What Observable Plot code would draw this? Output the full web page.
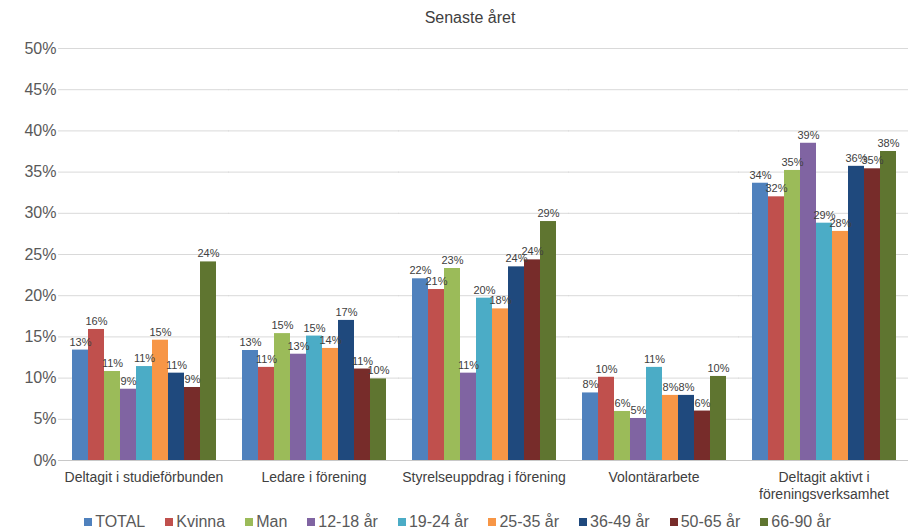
<!DOCTYPE html>
<html>
<head>
<meta charset="utf-8">
<script src="https://cdn.jsdelivr.net/npm/d3@7"></script>
<script src="https://cdn.jsdelivr.net/npm/@observablehq/plot@0.6"></script>
<style>
  html, body { margin: 0; padding: 0; background: #fff; overflow: hidden; }
  body { width: 908px; height: 532px; font-family: "Liberation Sans", Arial, sans-serif; }
  #title { height: 36px; line-height: 36px; font-size: 16px; color: #404040; text-align: center; padding-left: 32px; }
  #chart svg { display: block; }
  #legend { display: flex; justify-content: center; align-items: center; gap: 20px; font-size: 16px; color: #595959; height: 27px; padding-left: 7px; margin-top: 3px; }
  #legend .item { display: flex; align-items: center; white-space: nowrap; }
  #legend .sw { width: 8px; height: 8px; margin-right: 3px; display: inline-block; }
</style>
</head>
<body>
<div id="title">Senaste året</div>
<div id="chart"></div>
<div id="legend"></div>
<script>
const categories = [
  "Deltagit i studieförbunden",
  "Ledare i förening",
  "Styrelseuppdrag i förening",
  "Volontärarbete",
  "Deltagit aktivt i föreningsverksamhet"
];
const series = ["TOTAL", "Kvinna", "Man", "12-18 år", "19-24 år", "25-35 år", "36-49 år", "50-65 år", "66-90 år"];
const colors = ["#4F81BD", "#C0504D", "#9BBB59", "#8064A2", "#4BACC6", "#F79646", "#1F497D", "#772C2A", "#5F7530"];

// values (%) per series, in category order
const vTOTAL  = [13.4, 13.35, 22.05, 8.2, 33.65];
const vKvinna = [15.9, 11.3, 20.75, 10.1, 32.0];
const vMan    = [10.8, 15.4, 23.3, 5.95, 35.2];
const v1218   = [8.65, 12.9, 10.6, 5.1, 38.5];
const v1924   = [11.4, 15.1, 19.7, 11.3, 28.8];
const v2535   = [14.6, 13.6, 18.4, 7.9, 27.8];
const v3649   = [10.6, 17.0, 23.5, 7.9, 35.7];
const v5065   = [8.86, 11.1, 24.35, 6.0, 35.4];
const v6690   = [24.1, 9.9, 29.0, 10.2, 37.5];
const values = [vTOTAL, vKvinna, vMan, v1218, v1924, v2535, v3649, v5065, v6690];

const yTicks = [0, 5, 10, 15, 20, 25, 30, 35, 40, 45, 50];

const data = categories.flatMap((c, i) => series.map((s, j) => ({category: c, series: s, value: values[j][i]})));

const wrap = d => d === "Deltagit aktivt i föreningsverksamhet" ? "Deltagit aktivt i\nföreningsverksamhet" : d;

const chart = Plot.plot({
  width: 908,
  height: 469,
  marginTop: 12,
  marginBottom: 45,
  marginLeft: 58,
  marginRight: 0,
  style: {fontFamily: "'Liberation Sans', Arial, sans-serif", background: "#fff"},
  fx: {domain: categories, paddingInner: 0.15, paddingOuter: 0.075, label: null, axis: null},
  x: {domain: series, padding: 0, axis: null},
  y: {domain: [0, 50], label: null},
  color: {domain: series, range: colors},
  marks: [
    Plot.ruleY(yTicks, {stroke: "#d9d9d9", strokeWidth: 1, insetLeft: -13, insetRight: -13}),
    Plot.axisY(yTicks, {tickSize: 0, tickPadding: 15, fontSize: 16, fill: "#595959", tickFormat: d => d + "%", label: null}),
    Plot.axisFx({anchor: "bottom", tickSize: 0, tickPadding: 10, fontSize: 14, fill: "#404040", tickFormat: wrap, label: null, lineHeight: 1.2}),
    Plot.barY(data, {fx: "category", x: "series", y: "value", fill: "series"}),
    Plot.text(data, {fx: "category", x: "series", y: "value", text: d => Math.round(d.value) + "%", dy: -8, fontSize: 11, fill: "#404040"}),
    Plot.ruleY([0], {stroke: "#c8c8c8", strokeWidth: 1, insetLeft: -13, insetRight: -13})
  ]
});
document.getElementById("chart").appendChild(chart);

const legend = document.getElementById("legend");
series.forEach((s, i) => {
  const item = document.createElement("div");
  item.className = "item";
  const sw = document.createElement("span");
  sw.className = "sw";
  sw.style.background = colors[i];
  item.appendChild(sw);
  item.appendChild(document.createTextNode(s));
  legend.appendChild(item);
});
</script>
</body>
</html>
